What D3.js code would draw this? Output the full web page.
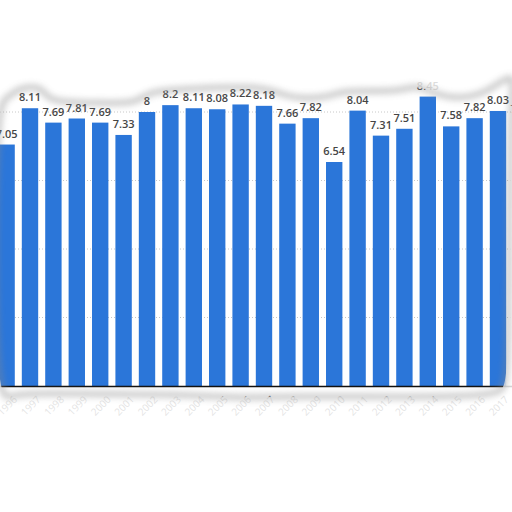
<!DOCTYPE html>
<html>
<head>
<meta charset="utf-8">
<script src="https://cdn.jsdelivr.net/npm/d3@7"></script>
<style>
  html, body { margin: 0; padding: 0; background: #fff; }
  svg { display: block; }
</style>
</head>
<body>
<svg id="chart" width="512" height="512"></svg>
<script>
// ---- data ----
const years = ["1996","1997","1998","1999","2000","2001","2002","2003","2004","2005","2006","2007",
               "2008","2009","2010","2011","2012","2013","2014","2015","2016","2017","2018"];
const values = [7.05, 8.11, 7.69, 7.81, 7.69, 7.33, 8, 8.2, 8.11, 8.08, 8.22, 8.18,
                7.66, 7.82, 6.54, 8.04, 7.31, 7.51, 8.45, 7.58, 7.82, 8.03, 7.77];
const gridTicks = [0, 2, 4, 6, 8, 10];

// decorative torn-paper outline of the visible strip
const tearOutline = [
  [-5,104],[8,98],[18,88],[40,86],[46,96],[56,102],[100,103],[132,103],[142,98],[152,91],[200,88],
  [262,86],[280,94],[300,99],[330,97],[342,90],[400,92],[415,85],[432,92],[452,99],[482,95],[500,82],[515,74],
  [510,100],[509,380],[502,392],[480,396],[400,397],[300,396],[230,398],[200,395],[100,394],[30,393],[10,396],[-5,400]
];

const svg = d3.select("#chart");
const W = 512, H = 512;

const x = d3.scaleBand().domain(years).range([-5.1, 533.1]).paddingInner(0.3).paddingOuter(0.15);
const y = d3.scaleLinear().domain([0, 10]).range([386, 43.5]);

const g = svg.append("g");

// gridlines
g.append("g").selectAll("line").data(gridTicks.filter(d => d > 0 && d < 10)).join("line")
  .attr("x1", 0).attr("x2", W)
  .attr("y1", d => y(d)).attr("y2", d => y(d))
  .attr("stroke", "#c8c8c8").attr("stroke-width", 1).attr("stroke-dasharray", "1,2");

// bars
g.append("g").selectAll("rect").data(values).join("rect")
  .attr("x", (d, i) => x(years[i]))
  .attr("width", x.bandwidth())
  .attr("y", d => y(d))
  .attr("height", d => y(0) - y(d))
  .attr("fill", "#2b76d9");

// value labels
g.append("g").selectAll("text").data(values).join("text")
  .attr("x", (d, i) => x(years[i]) + x.bandwidth() / 2)
  .attr("y", d => y(d) - 7)
  .attr("text-anchor", "middle")
  .attr("font-family", "Open Sans, DejaVu Sans, sans-serif")
  .attr("font-size", 11)
  .attr("font-weight", 600)
  .attr("fill", "#454545")
  .text(d => String(d));

// x axis
const xAxis = d3.axisBottom(x).tickSize(0).tickPadding(12);
const ax = g.append("g").attr("transform", `translate(0,${y(0)})`).call(xAxis);
ax.select(".domain").attr("stroke", "#111").attr("stroke-width", 1.5);
ax.selectAll("text")
  .attr("font-family", "Open Sans, DejaVu Sans, sans-serif")
  .attr("font-size", 10).attr("fill", "#666")
  .attr("text-anchor", "end")
  .attr("transform", "rotate(-45)")
  .attr("dx", "-0.2em").attr("dy", "0.6em");

// ---- torn paper decoration ----
const defs = svg.append("defs");
const blur = defs.append("filter").attr("id", "blur").attr("x", "-20%").attr("y", "-50%").attr("width", "140%").attr("height", "200%");
blur.append("feGaussianBlur").attr("stdDeviation", 3);

const line = d3.line().curve(d3.curveBasisClosed);
const mask = defs.append("mask").attr("id", "outside");
mask.append("rect").attr("width", W).attr("height", H).attr("fill", "#fff");
mask.append("path").attr("d", line(tearOutline)).attr("fill", "#000");

svg.append("rect").attr("width", W).attr("height", H)
  .attr("fill", "#fff").attr("opacity", 0.82).attr("mask", "url(#outside)");

svg.append("path").attr("d", line(tearOutline))
  .attr("fill", "none").attr("stroke", "#8a8a8a").attr("stroke-width", 6)
  .attr("opacity", 0.45).attr("filter", "url(#blur)");
</script>
</body>
</html>
